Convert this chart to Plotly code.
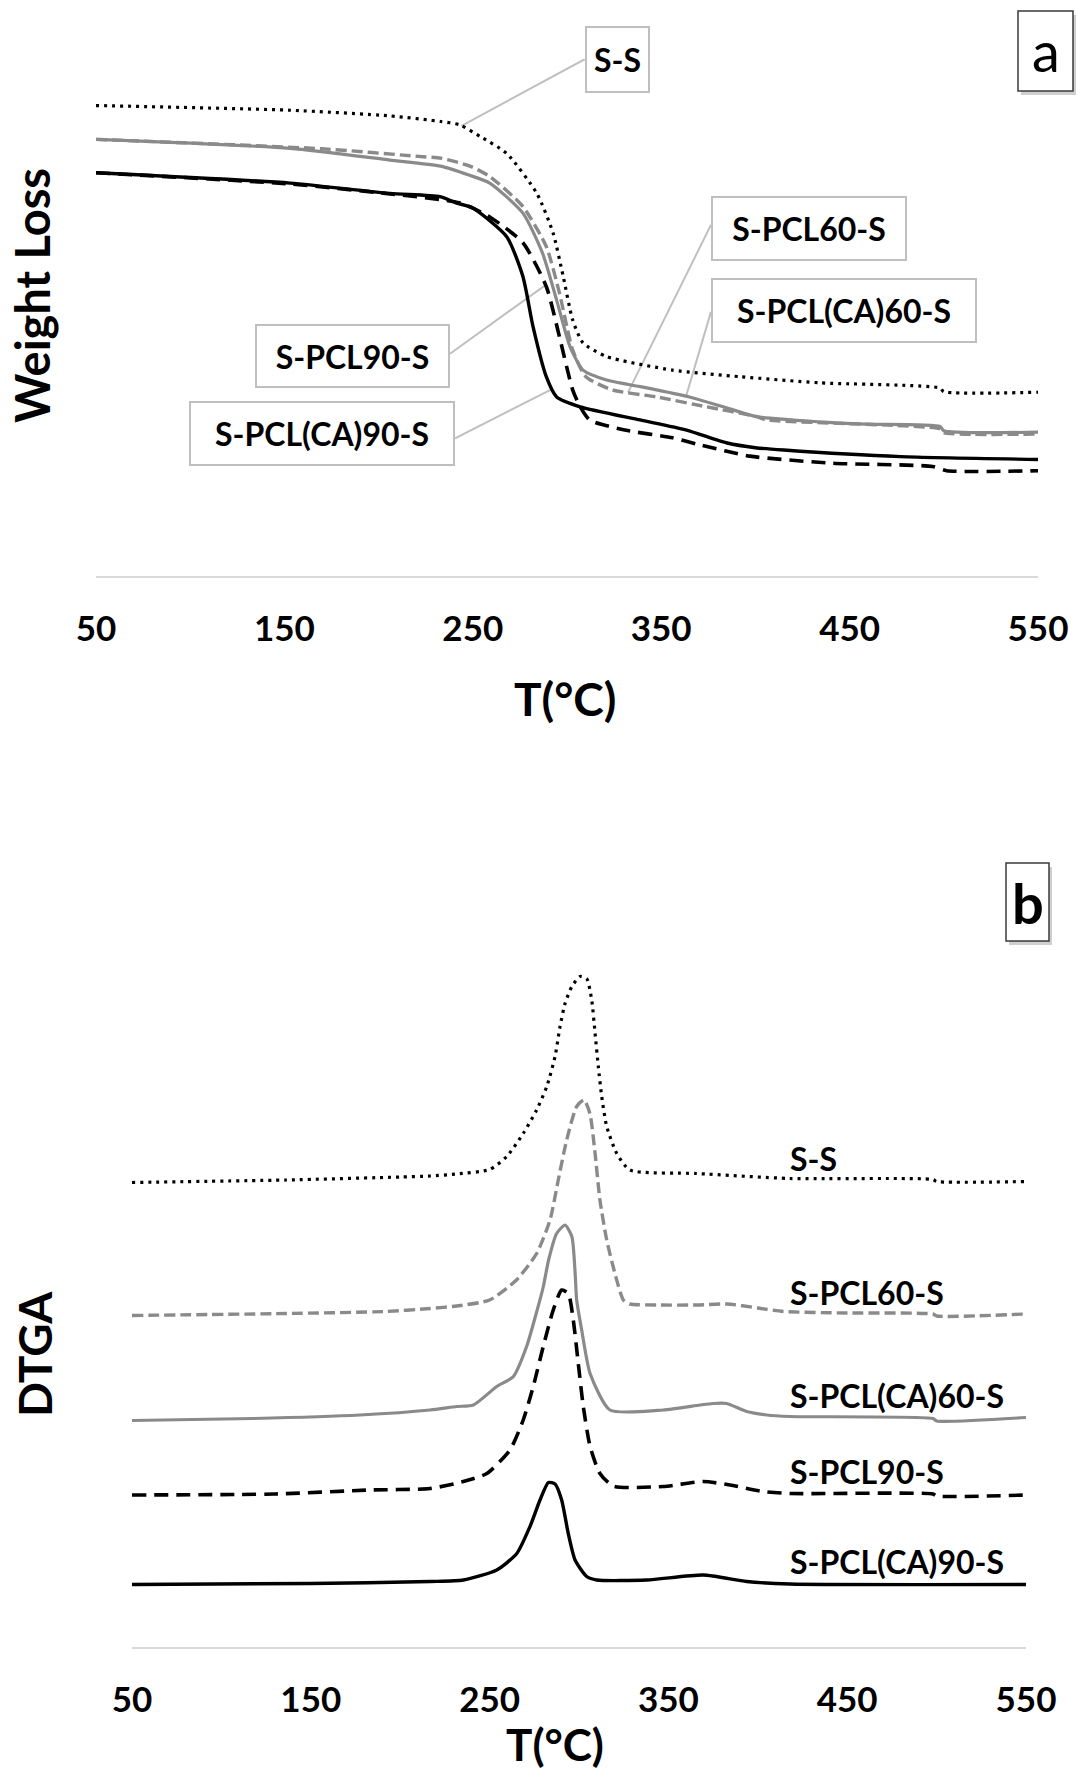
import numpy as np
import plotly.graph_objects as go

W, H = 1076, 1774
FONT = "Lato"
GRAY = "#8a8a8a"
BOXGRAY = "#bfbfbf"

# ---------------- Panel a : weight loss (TGA) ----------------
T_ss_a = [50, 153, 206, 233, 243, 254, 268, 284, 292.6, 298, 303, 308.5, 321, 356, 392, 434, 498, 500, 550]
W_ss = [100.1, 99.1, 97.9, 96.7, 96.0, 93.5, 89.9, 81.4, 73.0, 63.7, 54.5, 49.6, 46.7, 43.8, 42.4, 41.1, 40.0, 39.2, 39.1]

T_p60_a = [50, 170, 223.6, 233, 248.5, 259, 276.6, 289, 296, 303, 310, 324, 347.6, 374, 400.7, 406, 498, 500, 550]
W_p60 = [92.9, 90.9, 89.2, 88.9, 87.2, 85.0, 78.6, 70.1, 60.2, 48.1, 42.4, 39.6, 38.1, 36.0, 33.9, 33.2, 31.3, 30.5, 30.2]

T_pca60_a = [50, 153, 206, 233, 248, 259, 276.6, 287, 294.5, 301.6, 308.5, 321, 338.8, 365, 383, 400.7, 434, 459, 498, 500, 550]
W_pca60 = [92.9, 91.0, 88.5, 87.2, 85.3, 83.6, 77.2, 68.7, 58.7, 48.8, 43.8, 41.7, 40.3, 38.1, 36.0, 33.9, 32.8, 32.3, 31.8, 30.9, 30.6]

T_p90_a = [50, 153, 206, 243, 259, 276.6, 289, 296, 303, 307, 312, 330, 356, 370.6, 397, 441, 494, 501.5, 550]
W_p90 = [85.8, 83.4, 81.3, 79.4, 76.4, 70.9, 61.6, 50.9, 39.6, 36.0, 33.2, 31.1, 29.4, 27.9, 25.5, 24.0, 23.3, 22.4, 22.4]

T_pca90_a = [50, 153, 206, 232.6, 241, 250, 268, 276.6, 282, 289, 294.5, 307, 338.8, 363, 385, 400, 415, 477, 550]
W_pca90 = [85.8, 83.6, 81.4, 80.7, 79.4, 78.3, 72.2, 63.7, 53.0, 42.4, 38.1, 36.0, 33.2, 31.1, 28.3, 27.3, 26.8, 25.4, 24.8]

# ---------------- Panel b : DTGA ----------------
T_ss_b = [50, 136, 200, 216.7, 231.6, 250, 259.6, 268.8, 276.3, 282, 286.6, 289.4, 292.2, 296, 300.6, 304.3,
          307.1, 309, 310.8, 312.7, 315.5, 321.1, 328.5, 365.8, 418, 498, 500, 550]
D_ss = [92.9, 93.4, 94.0, 94.2, 94.6, 95.5, 98.1, 102.7, 107.4, 112.1, 118.1, 124.1, 128.7, 132.1, 134.1, 133.7,
        129.4, 122.7, 116.1, 110.1, 104.1, 98.7, 95.4, 94.7, 93.7, 93.5, 93.1, 93.1]

T_p60_b = [50, 136, 192, 216.7, 231.6, 250, 265, 276.3, 283.8, 288.4, 293.1, 298.7, 302.8, 306.1, 309, 311.7,
           315.5, 320.1, 324.8, 328.5, 345, 365.8, 383, 400, 414.3, 450, 498, 500, 550]
D_p60 = [66.3, 66.7, 67.1, 67.7, 68.2, 69.4, 73.4, 78.7, 85.4, 93.4, 101.4, 108.1, 109.4, 106.7, 98.7, 89.4,
         81.4, 74.7, 69.4, 68.6, 68.4, 68.4, 68.6, 67.8, 67.1, 66.8, 66.6, 66.2, 66.6]

T_pca60_b = [50, 118, 177.5, 216.7, 231.6, 240.9, 254, 263.3, 270.7, 276.3, 280, 283, 287.5, 292.2, 296, 297.8,
             298.7, 301.5, 306.2, 317.3, 347.1, 367.7, 375, 382.6, 393.8, 405, 418, 498, 500, 550]
D_pca60 = [45.3, 45.7, 46.4, 47.4, 48.1, 48.4, 52.1, 54.1, 60.1, 67.0, 72.0, 77.4, 82.7, 84.4, 82.1, 75.0,
           69.4, 63.4, 54.7, 47.4, 47.4, 48.4, 48.7, 48.7, 47.1, 46.4, 46.1, 45.7, 45.2, 45.9]

T_p90_b = [50, 130, 183, 216.7, 235.3, 248.4, 261.4, 268.8, 274.4, 280, 285.6, 290.3, 294, 296.8, 299.6, 302.4,
           306.2, 311.7, 319.2, 347.1, 369.5, 384.5, 403, 418, 498, 500, 550]
D_p90 = [30.4, 30.6, 31.4, 31.7, 33.1, 34.7, 39.4, 45.4, 52.1, 60.1, 67.4, 71.4, 70.7, 65.4, 56.7, 48.1,
         40.1, 34.7, 32.2, 32.1, 33.1, 32.4, 31.1, 30.7, 30.6, 30.2, 30.4]

T_pca90_b = [50, 150, 216.7, 235.3, 254, 265.2, 272.6, 278.2, 282.9, 286.6, 290.3, 294, 297.8, 304.3, 309.9,
             337.9, 369.5, 393.8, 418, 550]
D_pca90 = [12.5, 12.7, 13.1, 13.4, 15.4, 18.7, 24.1, 29.4, 32.9, 32.6, 29.4, 22.7, 17.4, 14.1, 13.4,
           13.4, 14.4, 13.1, 12.6, 12.5]

tick_vals = [50, 150, 250, 350, 450, 550]
tick_text = ["50", "150", "250", "350", "450", "550"]

names = ["S-S", "S-PCL60-S", "S-PCL(CA)60-S", "S-PCL90-S", "S-PCL(CA)90-S"]
styles = {
    "S-S": dict(color="black", dash="3px,5px", width=3.2),
    "S-PCL60-S": dict(color=GRAY, dash="11px,5px", width=3.4),
    "S-PCL(CA)60-S": dict(color=GRAY, dash="solid", width=3.2),
    "S-PCL90-S": dict(color="black", dash="14px,8px", width=3.6),
    "S-PCL(CA)90-S": dict(color="black", dash="solid", width=3.4),
}
series_a = {"S-S": (T_ss_a, W_ss), "S-PCL60-S": (T_p60_a, W_p60), "S-PCL(CA)60-S": (T_pca60_a, W_pca60),
            "S-PCL90-S": (T_p90_a, W_p90), "S-PCL(CA)90-S": (T_pca90_a, W_pca90)}
series_b = {"S-S": (T_ss_b, D_ss), "S-PCL60-S": (T_p60_b, D_p60), "S-PCL(CA)60-S": (T_pca60_b, D_pca60),
            "S-PCL90-S": (T_p90_b, D_p90), "S-PCL(CA)90-S": (T_pca90_b, D_pca90)}

fig = go.Figure()
for n in names:
    T, v = series_a[n]
    fig.add_trace(go.Scatter(x=T, y=v, mode="lines", name=n, xaxis="x", yaxis="y",
                             line=dict(shape="spline", smoothing=0.6, **styles[n]),
                             hoverinfo="skip", showlegend=False))
for n in names:
    T, v = series_b[n]
    fig.add_trace(go.Scatter(x=T, y=v, mode="lines", name=n, xaxis="x2", yaxis="y2",
                             line=dict(shape="spline", smoothing=0.6, **styles[n]),
                             hoverinfo="skip", showlegend=False))

tickfont = dict(family=FONT, size=35, color="black", weight="bold")
common_x = dict(range=[50, 550], tickmode="array", tickvals=tick_vals, ticktext=tick_text,
                showline=True, linecolor="#d9d9d9", linewidth=1.5, showgrid=False, zeroline=False,
                ticks="", ticklabelstandoff=21, tickfont=tickfont, fixedrange=True, automargin=False)

fig.update_layout(
    width=W, height=H, margin=dict(l=0, r=0, t=0, b=0, autoexpand=False),
    paper_bgcolor="white", plot_bgcolor="white", showlegend=False,
    xaxis=dict(domain=[96 / W, 1038 / W], anchor="y", **common_x),
    yaxis=dict(domain=[1 - 576 / H, 1 - 59 / H], range=[0, 110], visible=False, anchor="x", fixedrange=True),
    xaxis2=dict(domain=[132 / W, 1026 / W], anchor="y2", **common_x),
    yaxis2=dict(domain=[1 - 1647 / H, 1 - 947 / H], range=[0, 140], visible=False, anchor="x2", fixedrange=True),
)

labfont = dict(family=FONT, size=32, color="black", weight="bold")

# Panel a boxed labels: (name, box centre T, box centre value, box w, box h, curve T, attach T, attach value)
boxes_a = [
    ("S-S", 326.8, 109.9, 65, 67, 244.0, 309.6, 110.0),
    ("S-PCL60-S", 428.5, 73.9, 196, 65, 332.4, 376.4, 74.7),
    ("S-PCL(CA)60-S", 447.0, 56.5, 266, 65, 363.2, 376.4, 56.2),
    ("S-PCL90-S", 186.1, 46.8, 195, 64, 288.6, 237.9, 47.3),
    ("S-PCL(CA)90-S", 170.0, 30.3, 266, 65, 292.3, 240.6, 29.3),
]
shapes = []
annotations = []
for n, bx, by, bw, bh, ct, at, av in boxes_a:
    T, v = series_a[n]
    cv = float(np.interp(ct, T, v))
    shapes.append(dict(type="line", xref="x", yref="y", x0=ct, y0=cv, x1=at, y1=av,
                       line=dict(color=BOXGRAY, width=2), layer="below"))
    annotations.append(dict(text=n, x=bx, y=by, xref="x", yref="y", showarrow=False,
                            xanchor="center", yanchor="middle", font=labfont,
                            bgcolor="white", bordercolor=BOXGRAY, borderwidth=2, borderpad=0,
                            width=bw - 4, height=bh - 4, align="center", valign="middle"))

# Panel b plain labels
labels_b = [("S-S", 97.8), ("S-PCL60-S", 71.0), ("S-PCL(CA)60-S", 50.4), ("S-PCL90-S", 35.2), ("S-PCL(CA)90-S", 17.2)]
for n, ly in labels_b:
    annotations.append(dict(text=n, x=416.9, y=ly, xref="x2", yref="y2", showarrow=False,
                            xanchor="left", yanchor="middle", font=labfont))

# Axis titles
titfont = dict(family=FONT, size=46, color="black", weight="bold")
annotations += [
    dict(text="T(°C)", x=565 / W, y=1 - 698 / H, xref="paper", yref="paper", showarrow=False,
         xanchor="center", yanchor="middle", font=titfont),
    dict(text="T(°C)", x=555 / W, y=1 - 1744 / H, xref="paper", yref="paper", showarrow=False,
         xanchor="center", yanchor="middle", font=dict(family=FONT, size=44, color="black", weight="bold")),
    dict(text="Weight Loss", x=32 / W, y=1 - 296 / H, xref="paper", yref="paper", showarrow=False,
         xanchor="center", yanchor="middle", textangle=-90, font=dict(family=FONT, size=47, color="black", weight="bold")),
    dict(text="DTGA", x=34 / W, y=1 - 1354 / H, xref="paper", yref="paper", showarrow=False,
         xanchor="center", yanchor="middle", textangle=-90, font=titfont),
]

# Panel letters with shadowed boxes (pixel boxes: x0, x1, y0, y1)
letters = [("a", 1018, 1073, 11, 91, "normal"), ("b", 1006, 1049, 863, 941, "bold")]
for t, x0, x1, y0, y1, wgt in letters:
    shapes.append(dict(type="rect", xref="paper", yref="paper", x0=(x0 + 3) / W, x1=min(x1 + 3, W) / W,
                       y0=1 - (y1 + 4) / H, y1=1 - (y0 + 4) / H, line=dict(width=0), fillcolor="#cfcfcf", layer="above"))
    shapes.append(dict(type="rect", xref="paper", yref="paper", x0=x0 / W, x1=x1 / W,
                       y0=1 - y1 / H, y1=1 - y0 / H, line=dict(color="#3a3a3a", width=1.5), fillcolor="white", layer="above"))
    annotations.append(dict(text=t, x=(x0 + x1) / 2 / W, y=1 - (y0 + y1) / 2 / H, xref="paper", yref="paper",
                            showarrow=False, xanchor="center", yanchor="middle",
                            font=dict(family=FONT, size=56, color="black", weight=wgt)))

fig.update_layout(shapes=shapes, annotations=annotations)
fig.write_html("out.html")
